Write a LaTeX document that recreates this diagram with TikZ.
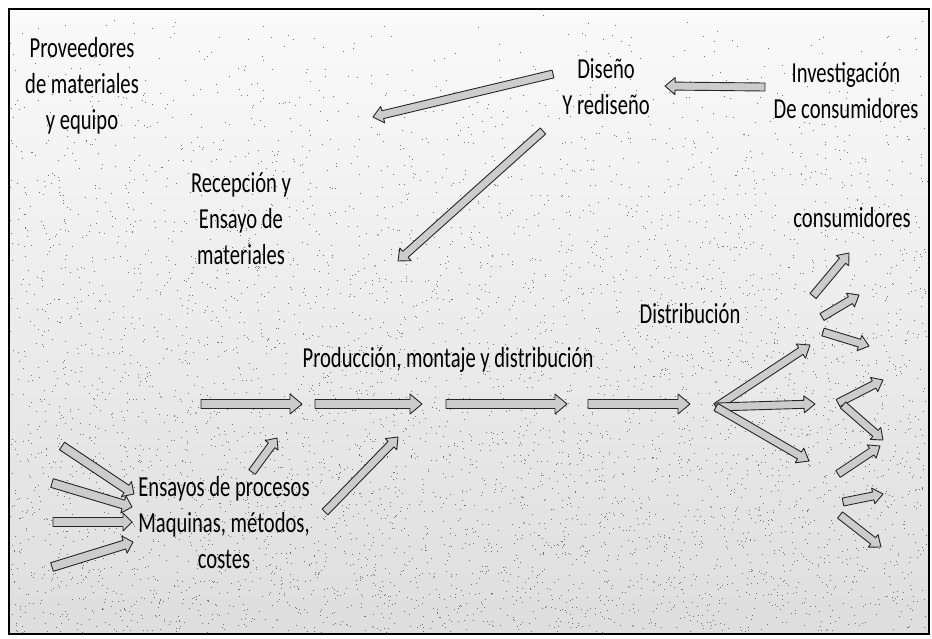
\documentclass[tikz,border=0pt]{standalone}
\usepackage{fontspec}
\setmainfont{Carlito}[FakeStretch=0.71]
\usetikzlibrary{calc}
\tikzset{
  lbl/.style={font=\fontsize{29}{36}\selectfont, align=center, inner sep=0pt, text=black},
  blockarrow/.style={draw=black!85, line width=0.9pt, fill=gray!40, line join=round},
  speck/.style={fill=black!55},
}
% #1 from, #2 to, #3 shaft half-width, #4 head half-width, #5 head length
\newcommand{\blkarr}[5]{%
  \coordinate (bh) at ($(#2)!#5!(#1)$);
  \filldraw[blockarrow] ($(#1)!#3!90:(#2)$) -- ($(bh)!#3!90:(#2)$) -- ($(bh)!#4!90:(#2)$)
    -- (#2) -- ($(bh)!#4!-90:(#2)$) -- ($(bh)!#3!-90:(#2)$) -- ($(#1)!#3!-90:(#2)$) -- cycle;
}
\begin{document}
\begin{tikzpicture}[x=1pt,y=-1pt]
\useasboundingbox (0,0) rectangle (932,638);
% speckled background
\shade[top color=gray!4, bottom color=gray!26] (9,9) rectangle (929,634);
\pgfmathsetseed{12345}
\foreach \k in {1,...,5500} {
  \pgfmathsetmacro{\sx}{10+917*rnd}
  \pgfmathsetmacro{\sy}{10+622*(rnd^0.6)}
  \fill[speck] (\sx,\sy) rectangle ++(1,1);
}
\draw[line width=1.6pt] (9,9) rectangle (929,634);

% texts
\node[lbl] (prov) at (82,86) {Proveedores\\de materiales\\y equipo};
\node[lbl] (dis) at (606,86.5) {Diseño\\Y rediseño};
\node[lbl] (inv) at (846,90.5) {Investigación\\De consumidores};
\node[lbl] (rec) at (241,218.5) {Recepción y\\Ensayo de\\materiales};
\node[lbl, anchor=base] (cons) at (852,227) {consumidores};
\node[lbl, anchor=base] (distr) at (690,323) {Distribución};
\node[lbl, anchor=base] (prod) at (448,367) {Producción, montaje y distribución};
\node[lbl] (ens) at (224,523) {Ensayos de procesos\\Maquinas, métodos,\\costes};

% arrow end points
\coordinate (a1s) at (553,74);  \coordinate (a1e) at (373,117);
\coordinate (a2s) at (765,87);  \coordinate (a2e) at (665,86);
\coordinate (a3s) at (543,131); \coordinate (a3e) at (398,261);
\coordinate (p1s) at (201,404); \coordinate (p1e) at (302,404);
\coordinate (p2s) at (315,404); \coordinate (p2e) at (422,404);
\coordinate (p3s) at (446,404); \coordinate (p3e) at (567,404);
\coordinate (p4s) at (588,404); \coordinate (p4e) at (690,404);
\coordinate (e1s) at (252,472); \coordinate (e1e) at (277,438);
\coordinate (e2s) at (325,512); \coordinate (e2e) at (398,437);
\coordinate (l1s) at (62,446);  \coordinate (l1e) at (134,494);
\coordinate (l2s) at (52,483);  \coordinate (l2e) at (132,507);
\coordinate (l3s) at (53,522);  \coordinate (l3e) at (132,522);
\coordinate (l4s) at (52,567);  \coordinate (l4e) at (133,542);
\coordinate (hub) at (716,407);
\coordinate (f1e) at (810,345); \coordinate (f2e) at (815,404); \coordinate (f3e) at (809,461);
\coordinate (r1s) at (813,296); \coordinate (r1e) at (849,253);
\coordinate (r2s) at (822,317); \coordinate (r2e) at (859,295);
\coordinate (r3s) at (823,332); \coordinate (r3e) at (869,346);
\coordinate (r4s) at (838,403); \coordinate (r4e) at (883,380);
\coordinate (r5s) at (843,405); \coordinate (r5e) at (883,440);
\coordinate (r6s) at (838,474); \coordinate (r6e) at (880,446);
\coordinate (r7s) at (843,502); \coordinate (r7e) at (883,494);
\coordinate (r8s) at (840,515); \coordinate (r8e) at (881,547);

% arrows
\blkarr{a1s}{a1e}{4pt}{8.5pt}{10pt}
\blkarr{a2s}{a2e}{4pt}{8.5pt}{10pt}
\blkarr{a3s}{a3e}{4pt}{8.5pt}{10pt}
\blkarr{p1s}{p1e}{4.5pt}{10pt}{12pt}
\blkarr{p2s}{p2e}{4.5pt}{10pt}{12pt}
\blkarr{p3s}{p3e}{4.5pt}{10pt}{12pt}
\blkarr{p4s}{p4e}{4.5pt}{10pt}{12pt}
\blkarr{e1s}{e1e}{4pt}{8pt}{9pt}
\blkarr{e2s}{e2e}{4pt}{8pt}{10pt}
\blkarr{l1s}{l1e}{4.5pt}{9pt}{9pt}
\blkarr{l2s}{l2e}{4.5pt}{9pt}{9pt}
\blkarr{l3s}{l3e}{4.5pt}{9pt}{9pt}
\blkarr{l4s}{l4e}{4.5pt}{9pt}{9pt}
\blkarr{hub}{f1e}{4pt}{8.5pt}{11pt}
\blkarr{hub}{f2e}{4pt}{8.5pt}{11pt}
\blkarr{hub}{f3e}{4pt}{8.5pt}{11pt}
\blkarr{r1s}{r1e}{4pt}{8pt}{10pt}
\blkarr{r2s}{r2e}{4pt}{8pt}{10pt}
\blkarr{r3s}{r3e}{4pt}{8pt}{10pt}
\blkarr{r4s}{r4e}{4pt}{8pt}{10pt}
\blkarr{r5s}{r5e}{4pt}{8pt}{10pt}
\blkarr{r6s}{r6e}{4pt}{8pt}{10pt}
\blkarr{r7s}{r7e}{4pt}{8pt}{10pt}
\blkarr{r8s}{r8e}{4pt}{8pt}{10pt}
\end{tikzpicture}
\end{document}
